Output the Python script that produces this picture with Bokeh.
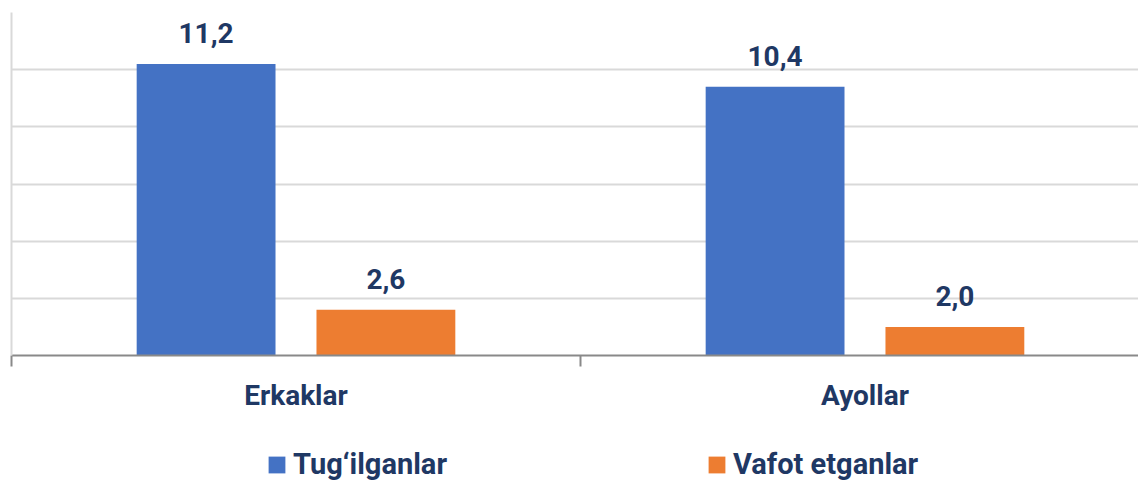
from bokeh.plotting import figure
from bokeh.layouts import column
from bokeh.models import (Range1d, LinearAxis, FixedTicker, Legend, LegendItem,
                          LabelSet, ColumnDataSource, Grid)
from bokeh.core.properties import value
from bokeh.embed import file_html
from bokeh.resources import INLINE

categories = ["Erkaklar", "Ayollar"]
series = ["Tug‘ilganlar", "Vafot etganlar"]
born = [11.2, 10.4]
died = [2.6, 2.0]
colors = ["#4472C4", "#ED7D31"]
TEXT = "#1F3864"
FONT = "Roboto"

offset = 0.158
bar_w = 0.244
centers = [i + 0.5 for i in range(len(categories))]
bounds = [float(i) for i in range(len(categories) + 1)]

def fmt(v):
    return f"{v:.1f}".replace(".", ",")

src_b = ColumnDataSource(dict(x=[c - offset for c in centers], top=born,
                              lab=[fmt(v) for v in born]))
src_d = ColumnDataSource(dict(x=[c + offset for c in centers], top=died,
                              lab=[fmt(v) for v in died]))

p = figure(width=1138, height=435, output_backend="svg", toolbar_location=None,
           x_range=Range1d(0, 1.9807), y_range=Range1d(1, 13),
           x_axis_type=None, y_axis_type=None,
           min_border_left=11, min_border_right=0, min_border_top=12, min_border_bottom=80)
p.outline_line_color = None

g = Grid(dimension=1, ticker=FixedTicker(ticks=[1, 3, 5, 7, 9, 11, 13]),
         grid_line_color="#D9D9D9", grid_line_width=2)
p.add_layout(g)

yax = LinearAxis(ticker=FixedTicker(ticks=[]), axis_line_color="#D9D9D9", axis_line_width=2,
                 major_tick_line_color=None, minor_tick_line_color=None,
                 major_tick_out=0, major_tick_in=0, minor_tick_out=0, minor_tick_in=0,
                 major_label_standoff=0)
p.add_layout(yax, "left")

r1 = p.vbar(x="x", top="top", bottom=1, width=bar_w, source=src_b,
            fill_color=colors[0], line_color=None)
r2 = p.vbar(x="x", top="top", bottom=1, width=bar_w, source=src_d,
            fill_color=colors[1], line_color=None)

for src in (src_b, src_d):
    p.add_layout(LabelSet(x="x", y="top", text="lab", source=src, y_offset=21,
                          text_align="center", text_baseline="alphabetic",
                          text_font=value(FONT), text_font_style="bold",
                          text_font_size="28px", text_color=TEXT))

xax = LinearAxis(ticker=FixedTicker(ticks=centers, minor_ticks=bounds),
                 major_label_overrides={c: n for c, n in zip(centers, categories)},
                 axis_line_color="#898989", axis_line_width=2,
                 major_tick_line_color=None, major_tick_out=11, major_tick_in=0,
                 minor_tick_line_color="#898989", minor_tick_line_width=2,
                 minor_tick_out=11, minor_tick_in=0,
                 major_label_text_font=FONT, major_label_text_font_style="bold",
                 major_label_text_font_size="28px", major_label_text_color=TEXT,
                 major_label_standoff=12)
p.add_layout(xax, "below")

# legend strip: hidden copies of the two series, only their legend entries show
p2 = figure(width=1138, height=46, output_backend="svg", toolbar_location=None,
            x_range=Range1d(0, 1.9807), y_range=Range1d(1, 13),
            x_axis_type=None, y_axis_type=None,
            min_border_left=0, min_border_right=0, min_border_top=0, min_border_bottom=0)
p2.outline_line_color = None
l1 = p2.vbar(x="x", top="top", bottom=1, width=bar_w, source=src_b,
             fill_color=colors[0], line_color=None, visible=False)
l2 = p2.vbar(x="x", top="top", bottom=1, width=bar_w, source=src_d,
             fill_color=colors[1], line_color=None, visible=False)

legend = Legend(items=[LegendItem(label=series[0], renderers=[l1]),
                       LegendItem(label=series[1], renderers=[l2])],
                orientation="horizontal", location=(255, 0),
                glyph_width=21, glyph_height=21, label_standoff=6,
                label_width=400, spacing=13,
                label_text_font=FONT, label_text_font_style="bold",
                label_text_font_size="29px", label_text_color=TEXT,
                border_line_color=None, background_fill_color=None,
                inactive_fill_alpha=0.0,
                padding=0, margin=0)
p2.add_layout(legend, "center")

layout = column(p, p2, spacing=0)
open("out.html", "w").write(file_html(layout, INLINE))
